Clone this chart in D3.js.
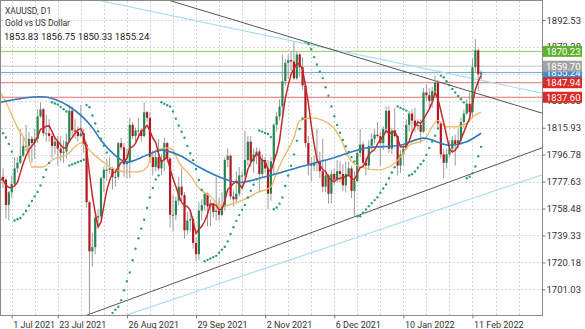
<!DOCTYPE html>
<html>
<head>
<meta charset="utf-8">
<script src="https://cdn.jsdelivr.net/npm/d3@7"></script>
<style>
  body { margin: 0; background: #fff; }
  svg { display: block; font-family: Roboto, "Noto Sans", sans-serif; }
</style>
</head>
<body>
<svg id="chart" width="585" height="329"></svg>
<script>
// daily bars, XAUUSD (first few bars sit left of the visible area)
const dates = [
  "2021-06-18","2021-06-21","2021-06-22","2021-06-23","2021-06-24","2021-06-25","2021-06-28","2021-06-29","2021-06-30",
  "2021-07-01","2021-07-02","2021-07-05","2021-07-06","2021-07-07","2021-07-08","2021-07-09","2021-07-12","2021-07-13","2021-07-14","2021-07-15","2021-07-16","2021-07-19","2021-07-20","2021-07-21","2021-07-22","2021-07-23","2021-07-26","2021-07-27","2021-07-28","2021-07-29","2021-07-30",
  "2021-08-02","2021-08-03","2021-08-04","2021-08-05","2021-08-06","2021-08-09","2021-08-10","2021-08-11","2021-08-12","2021-08-13","2021-08-16","2021-08-17","2021-08-18","2021-08-19","2021-08-20","2021-08-23","2021-08-24","2021-08-25","2021-08-26","2021-08-27","2021-08-30","2021-08-31",
  "2021-09-01","2021-09-02","2021-09-03","2021-09-06","2021-09-07","2021-09-08","2021-09-09","2021-09-10","2021-09-13","2021-09-14","2021-09-15","2021-09-16","2021-09-17","2021-09-20","2021-09-21","2021-09-22","2021-09-23","2021-09-24","2021-09-27","2021-09-28","2021-09-29","2021-09-30",
  "2021-10-01","2021-10-04","2021-10-05","2021-10-06","2021-10-07","2021-10-08","2021-10-11","2021-10-12","2021-10-13","2021-10-14","2021-10-15","2021-10-18","2021-10-19","2021-10-20","2021-10-21","2021-10-22","2021-10-25","2021-10-26","2021-10-27","2021-10-28","2021-10-29",
  "2021-11-01","2021-11-02","2021-11-03","2021-11-04","2021-11-05","2021-11-08","2021-11-09","2021-11-10","2021-11-11","2021-11-12","2021-11-15","2021-11-16","2021-11-17","2021-11-18","2021-11-19","2021-11-22","2021-11-23","2021-11-24","2021-11-25","2021-11-26","2021-11-29","2021-11-30",
  "2021-12-01","2021-12-02","2021-12-03","2021-12-06","2021-12-07","2021-12-08","2021-12-09","2021-12-10","2021-12-13","2021-12-14","2021-12-15","2021-12-16","2021-12-17","2021-12-20","2021-12-21","2021-12-22","2021-12-23","2021-12-27","2021-12-28","2021-12-29","2021-12-30","2021-12-31",
  "2022-01-03","2022-01-04","2022-01-05","2022-01-06","2022-01-07","2022-01-10","2022-01-11","2022-01-12","2022-01-13","2022-01-14","2022-01-17","2022-01-18","2022-01-19","2022-01-20","2022-01-21","2022-01-24","2022-01-25","2022-01-26","2022-01-27","2022-01-28","2022-01-31",
  "2022-02-01","2022-02-02","2022-02-03","2022-02-04","2022-02-07","2022-02-08","2022-02-09","2022-02-10","2022-02-11","2022-02-14","2022-02-15","2022-02-16"
];
const opens = [
  1774,1764,1782,1779,1779,1776,1781,1779,1761,
  1770,1776,1787,1791,1796,1803,1803,1808,1805,1808,1824,1829,1812,1812,1810,1803,1806,1801,1798,1799,1806,1828,
  1814,1813,1810,1812,1804,1763,1728,1731,1752,1753,1780,1786,1786,1787,1781,1781,1805,1802,1790,1792,1818,1810,
  1814,1814,1810,1827,1823,1795,1788,1795,1787,1793,1805,1794,1754,1754,1764,1774,1768,1743,1750,1751,1734,1726,
  1757,1761,1769,1760,1762,1756,1757,1754,1760,1793,1796,1767,1765,1769,1782,1782,1793,1806,1792,1797,1799,
  1783,1793,1787,1769,1792,1818,1824,1831,1849,1862,1864,1863,1851,1868,1859,1846,1805,1790,1789,1791,1792,1785,
  1774,1782,1769,1783,1779,1785,1783,1775,1783,1787,1771,1778,1798,1804,1791,1789,1803,1808,1811,1810,1805,1815,
  1828,1801,1814,1810,1789,1797,1801,1818,1826,1821,1817,1818,1813,1841,1839,1835,1842,1848,1819,1797,1791,
  1797,1801,1807,1804,1807,1820,1826,1833,1827,1859,1871,1853.83
];
const highs = [
  1791,1789,1790,1795,1786,1785,1787,1780,1771,
  1782,1795,1795,1815,1809,1818,1813,1810,1815,1829,1834,1830,1825,1822,1812,1810,1810,1810,1807,1812,1832,1831,
  1822,1817,1832,1815,1806,1764,1741,1754,1758,1781,1788,1794,1795,1788,1786,1806,1809,1805,1801,1823,1820,1816,
  1823,1816,1834,1828,1827,1800,1800,1808,1797,1809,1806,1795,1768,1767,1781,1787,1770,1756,1757,1753,1738,1763,
  1765,1770,1770,1765,1763,1781,1766,1770,1795,1801,1797,1771,1785,1788,1785,1814,1810,1810,1801,1802,1801,
  1797,1795,1793,1795,1819,1827,1836,1868,1865,1868,1870,1877,1870,1869,1866,1849,1810,1795,1796,1815,1799,1808,
  1793,1783,1786,1787,1793,1792,1790,1792,1792,1789,1785,1800,1815,1806,1795,1807,1812,1815,1820,1813,1817,1831,
  1831,1816,1830,1811,1800,1804,1822,1828,1829,1830,1822,1822,1844,1847,1844,1845,1853,1850,1820,1801,1801,
  1807,1810,1811,1815,1823,1829,1836,1841,1865,1879,1872,1856.75
];
const lows = [
  1761,1761,1772,1776,1771,1772,1773,1751,1750,
  1766,1775,1784,1790,1795,1799,1795,1791,1794,1805,1823,1810,1806,1806,1794,1797,1789,1792,1791,1794,1805,1810,
  1808,1806,1809,1798,1759,1682,1717,1726,1745,1751,1770,1778,1783,1772,1774,1779,1800,1781,1780,1780,1808,1806,
  1808,1806,1809,1820,1791,1782,1785,1785,1782,1785,1791,1745,1742,1750,1761,1763,1737,1740,1742,1730,1721,1722,
  1750,1757,1746,1746,1752,1750,1750,1753,1757,1788,1765,1760,1762,1767,1774,1780,1789,1788,1784,1790,1770,
  1781,1784,1758,1764,1782,1813,1821,1823,1846,1851,1856,1850,1850,1852,1843,1802,1782,1778,1785,1785,1780,1770,
  1770,1762,1762,1775,1777,1777,1771,1770,1781,1766,1753,1777,1795,1788,1782,1786,1800,1805,1809,1789,1800,1812,
  1798,1797,1809,1782,1784,1789,1800,1813,1812,1813,1814,1805,1812,1835,1830,1830,1837,1816,1794,1780,1787,
  1795,1799,1789,1801,1804,1816,1825,1820,1823,1855,1842,1850.33
];
const closes = [
  1764,1782,1779,1779,1776,1781,1779,1761,1770,
  1776,1787,1791,1796,1803,1803,1808,1805,1808,1824,1829,1812,1812,1810,1803,1806,1801,1798,1799,1806,1828,1814,
  1813,1810,1812,1804,1763,1728,1731,1752,1753,1780,1786,1786,1787,1781,1781,1805,1802,1790,1792,1818,1810,1814,
  1814,1810,1827,1823,1795,1788,1795,1787,1793,1805,1794,1754,1754,1764,1774,1768,1743,1750,1751,1734,1726,1757,
  1761,1769,1760,1762,1756,1757,1754,1760,1793,1796,1767,1765,1769,1782,1782,1793,1806,1792,1797,1799,1783,
  1793,1787,1769,1792,1818,1824,1831,1849,1862,1864,1863,1851,1868,1859,1846,1805,1790,1789,1791,1792,1785,1774,
  1782,1769,1783,1779,1785,1783,1775,1783,1787,1771,1778,1798,1804,1791,1789,1803,1808,1811,1810,1805,1815,1828,
  1801,1814,1810,1789,1797,1801,1818,1826,1821,1817,1818,1813,1841,1839,1835,1842,1848,1819,1797,1791,1797,
  1801,1807,1804,1807,1820,1826,1833,1827,1859,1871,1854,1855.24
];

// slower averages: [bar, price]
const maOrange = [[5,1841],[7,1834],[11,1816],[14,1805],[16,1788],[20,1788],[23,1793],[28,1796.5],[33,1805],[37,1798],[41,1791],[44,1787],[49,1784.5],[53,1784.5],[56,1788],[58,1798],[63,1801.5],[65,1800],[67,1791.5],[71,1782],[74,1773],[78,1767],[82,1760],[86,1762],[91,1766],[94,1769.5],[99,1774],[101,1784],[103,1793],[107,1809],[109,1821],[113,1823],[119,1819],[123,1809],[126,1795],[130,1788],[136,1786],[140,1788],[144,1795],[147,1803.5],[152,1807],[157,1821],[160,1816.5],[163,1816.5],[167,1819],[169,1823.5],[172,1827]];
const maBlue = [[5,1834],[19,1838],[29,1831],[37,1816],[40,1807],[44,1798],[49,1791.5],[56,1796.5],[61,1800],[67,1796.5],[74,1788],[81,1781],[88,1777],[97,1781],[109,1788],[120,1794],[132,1801.5],[144,1803.5],[152,1808.5],[161,1803.5],[167,1806],[172,1812]];

// trendlines, two anchors each: [bar, price]
const trendDarkDown = [[88.2, 1891.3], [193, 1826.4]];
const trendCyanDown = [[38.5, 1906.8], [193, 1840.6]];
const trendDarkUp = [[36.1, 1683.4], [193, 1801.5]];
const trendCyanUp = [[48.9, 1682.7], [193, 1782.3]];

// horizontal levels on the price scale
const levelPrices = [1855.24, 1859.70, 1870.23, 1847.94, 1837.60];
const levelKinds = ["blue", "grey", "green", "red", "red"];

const yTicks = [1892.53, 1873.38, 1854.23, 1835.08, 1815.93, 1796.78, 1777.63, 1758.48, 1739.33, 1720.18, 1701.03];
const xLabelDates = ["2021-07-01","2021-07-23","2021-08-26","2021-09-29","2021-11-02","2021-12-06","2022-01-10","2022-02-11"];
const xLabels = ["1 Jul 2021","23 Jul 2021","26 Aug 2021","29 Sep 2021","2 Nov 2021","6 Dec 2021","10 Jan 2022","11 Feb 2022"];

const headerLines = ["XAUUSD, D1", "Gold vs US Dollar"];
const ohlcLine = [1853.83, 1856.75, 1850.33, 1855.24];

const levelStyle = {
  green: { line: "#93c964", box: "#5fb22c" },
  grey:  { line: "#c2c2c2", box: "#a4a4a4" },
  blue:  { line: "#6ea6dd", box: "#3f8bd6" },
  red:   { line: "#e46f6f", box: "#d92b27" }
};

const plot = { left: 1, right: 542, top: 1, bottom: 315 };
const svg = d3.select("#chart");

const x = d3.scaleLinear().domain([9, 169]).range([11.7, 11.7 + 160 * 2.88]);
const y = d3.scaleLinear().domain([1701.03, 1892.53]).range([289.3, 20]);

svg.append("defs").append("clipPath").attr("id", "clip")
  .append("rect")
  .attr("x", plot.left).attr("y", plot.top)
  .attr("width", plot.right - plot.left).attr("height", plot.bottom - plot.top);

// grid
const grid = svg.append("g");
const firstIdx = dates.indexOf(xLabelDates[0]);
const gridIdx = d3.range(firstIdx, 200, 8).filter(i => x(i) < plot.right);
grid.selectAll("line.v").data(gridIdx).enter().append("line")
  .attr("x1", d => Math.round(x(d)) + 0.5).attr("x2", d => Math.round(x(d)) + 0.5)
  .attr("y1", plot.top).attr("y2", plot.bottom)
  .attr("stroke", "#d6d6d6").attr("stroke-dasharray", "2,2");
grid.selectAll("line.h").data(yTicks).enter().append("line")
  .attr("x1", plot.left).attr("x2", plot.right)
  .attr("y1", d => Math.round(y(d)) + 0.5).attr("y2", d => Math.round(y(d)) + 0.5)
  .attr("stroke", "#d6d6d6").attr("stroke-dasharray", "2,2");

const body = svg.append("g").attr("clip-path", "url(#clip)");

// price levels
body.selectAll("line.level").data(levelPrices).enter().append("line")
  .attr("x1", plot.left).attr("x2", plot.right)
  .attr("y1", d => y(d)).attr("y2", d => y(d))
  .attr("stroke", (d, i) => levelStyle[levelKinds[i]].line)
  .attr("stroke-width", 1);

// trendlines across the whole plot
function drawTrend(anchors, color, width) {
  const [a, b] = anchors;
  const slope = (b[1] - a[1]) / (b[0] - a[0]);
  const i0 = x.invert(plot.left - 5), i1 = x.invert(plot.right + 5);
  body.append("line")
    .attr("x1", x(i0)).attr("y1", y(a[1] + slope * (i0 - a[0])))
    .attr("x2", x(i1)).attr("y2", y(a[1] + slope * (i1 - a[0])))
    .attr("stroke", color).attr("stroke-width", width);
}
drawTrend(trendCyanDown, "#a6e0ec", 1.2);
drawTrend(trendCyanUp, "#a6e0ec", 1.2);
drawTrend(trendDarkDown, "#555", 1);
drawTrend(trendDarkUp, "#555", 1);

// candles
const bars = dates.map((d, i) => ({ i, o: opens[i], h: highs[i], l: lows[i], c: closes[i] }));
body.selectAll("line.wick").data(bars).enter().append("line")
  .attr("x1", d => x(d.i)).attr("x2", d => x(d.i))
  .attr("y1", d => y(d.h)).attr("y2", d => y(d.l))
  .attr("stroke", "#9c9c9c").attr("stroke-width", 1);
body.selectAll("rect.candle").data(bars).enter().append("rect")
  .attr("x", d => x(d.i) - 1.1).attr("width", 2.2)
  .attr("y", d => y(Math.max(d.o, d.c)))
  .attr("height", d => Math.max(1, Math.abs(y(d.o) - y(d.c))))
  .attr("fill", d => d.c >= d.o ? "#23874f" : "#b3181e");

// averages
const lineGen = d3.line().x(d => x(d[0])).y(d => y(d[1])).curve(d3.curveMonotoneX);
body.append("path").datum(maOrange).attr("d", lineGen)
  .attr("fill", "none").attr("stroke", "#f2b662").attr("stroke-width", 1.3);
body.append("path").datum(maBlue).attr("d", lineGen)
  .attr("fill", "none").attr("stroke", "#2d7cc0").attr("stroke-width", 1.6);

// fast average: 5-bar SMA of closes
const sma5 = closes.map((c, i) => i < 4 ? null : [i, d3.mean(closes.slice(i - 4, i + 1))]).filter(Boolean);
body.append("path").datum(sma5).attr("d", d3.line().x(d => x(d[0])).y(d => y(d[1])))
  .attr("fill", "none").attr("stroke", "#c42a2a").attr("stroke-width", 1.5);

// parabolic SAR (0.02 / 0.2), started in the June downtrend
function psar(step, maxStep) {
  let up = false, sar = 1835, ep = 1761, af = 0.06;
  const out = [];
  for (let i = 0; i < closes.length; i++) {
    if (i > 0) {
      sar = sar + af * (ep - sar);
      const p2 = i > 1 ? i - 2 : i - 1;
      if (up) {
        sar = Math.min(sar, lows[i - 1], lows[p2]);
        if (lows[i] < sar) { up = false; sar = ep; ep = lows[i]; af = step; }
        else if (highs[i] > ep) { ep = highs[i]; af = Math.min(af + step, maxStep); }
      } else {
        sar = Math.max(sar, highs[i - 1], highs[p2]);
        if (highs[i] > sar) { up = true; sar = ep; ep = highs[i]; af = step; }
        else if (lows[i] < ep) { ep = lows[i]; af = Math.min(af + step, maxStep); }
      }
    }
    out.push([i, sar]);
  }
  return out;
}
body.selectAll("circle.sar").data(psar(0.02, 0.2)).enter().append("circle")
  .attr("cx", d => x(d[0])).attr("cy", d => y(d[1])).attr("r", 1.2)
  .attr("fill", "#2f9e73");

// frame
svg.append("rect")
  .attr("x", plot.left - 0.5).attr("y", plot.top - 0.5)
  .attr("width", plot.right - plot.left + 1).attr("height", plot.bottom - plot.top + 1)
  .attr("fill", "none").attr("stroke", "#8a8a8a");

// axes
const yAxis = svg.append("g").attr("transform", `translate(${plot.right + 0.5},0)`)
  .call(d3.axisRight(y).tickValues(yTicks).tickSize(3).tickPadding(1).tickFormat(d3.format(".2f")));
yAxis.select(".domain").remove();
yAxis.selectAll("line").attr("stroke", "#777");
yAxis.selectAll("text").attr("font-size", "9.5px").attr("fill", "#333").attr("font-family", "Roboto");

const xAxis = svg.append("g").attr("transform", `translate(0,${plot.bottom + 0.5})`)
  .call(d3.axisBottom(x).tickValues(xLabelDates.map(d => dates.indexOf(d))).tickSize(3)
    .tickFormat((d, i) => xLabels[i]));
xAxis.select(".domain").remove();
xAxis.selectAll("line").attr("stroke", "#777");
xAxis.selectAll("text").attr("text-anchor", "start").attr("dx", "1")
  .attr("font-size", "9px").attr("fill", "#333").attr("font-family", "Roboto");

// level labels on the price scale
const tags = svg.append("g");
levelPrices.forEach((p, i) => {
  const yy = y(p);
  tags.append("rect").attr("x", plot.right + 1).attr("y", yy - 5.5)
    .attr("width", 39).attr("height", 11).attr("fill", levelStyle[levelKinds[i]].box);
  tags.append("text").attr("x", plot.right + 4).attr("y", yy + 3.5)
    .attr("font-size", "9.5px").attr("fill", "#fff").text(p.toFixed(2));
});

// header
svg.selectAll("text.head").data(headerLines).enter().append("text")
  .attr("x", 5).attr("y", (d, i) => 14 + i * 11.5)
  .attr("font-size", "8.5px").attr("fill", "#333").text(d => d);
svg.append("text").attr("x", 4).attr("y", 39.5)
  .attr("font-size", "9.5px").attr("fill", "#222")
  .text(ohlcLine.map(v => v.toFixed(2)).join(" "));
</script>
</body>
</html>
